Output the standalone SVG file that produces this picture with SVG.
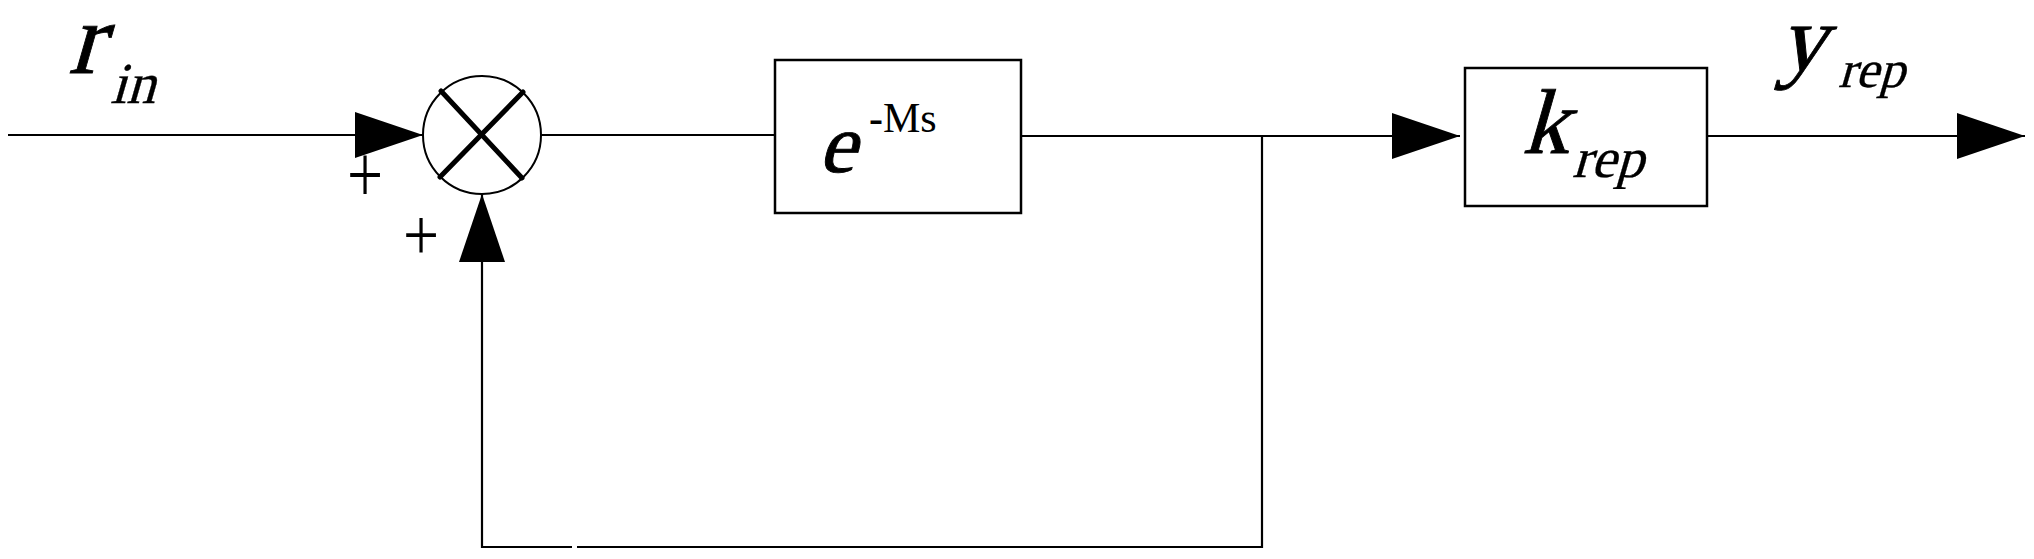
<svg xmlns="http://www.w3.org/2000/svg" width="2034" height="559" viewBox="0 0 2034 559">
  <style>
    .ln { fill: none; stroke: #000; stroke-width: 2.2; }
    .box { fill: #fff; stroke: #000; stroke-width: 2.5; }
    .sym { font-family: "Liberation Serif", "Times New Roman", serif; fill: #000; }
    .big { stroke: #000; stroke-width: 0.9; }
    .sub { stroke: #000; stroke-width: 0.3; }
    .rom { font-family: "Liberation Serif", "Times New Roman", serif; fill: #000; }
    .xl { stroke: #000; stroke-width: 5; stroke-linecap: round; }
  </style>
  <defs>
    <marker id="arr" markerUnits="userSpaceOnUse" markerWidth="70" markerHeight="48" refX="68" refY="23" orient="auto" viewBox="0 0 70 48">
      <path d="M0,0 L68,23 L0,46 Z" fill="#000"/>
    </marker>
  </defs>
  <rect width="2034" height="559" fill="#fff"/>

  <g id="connectors">
    <path class="ln" d="M8,135 H423" marker-end="url(#arr)"/>
    <path class="ln" d="M541,135 H775"/>
    <path class="ln" d="M1021,136 H1460" marker-end="url(#arr)"/>
    <path class="ln" d="M1707,136 H2025" marker-end="url(#arr)"/>
    <path class="ln" d="M1262,136 V547 H577"/>
    <path class="ln" d="M572,547 H482 V194" marker-end="url(#arr)"/>
  </g>

  <g id="label-rin">
    <text class="sym big" font-size="102" transform="translate(68,73) skewX(-16)">r</text>
    <text class="sym sub" font-size="58" transform="translate(110,103) skewX(-16)">in</text>
  </g>

  <g id="sum">
    <circle cx="482" cy="135" r="59" fill="#fff" stroke="#000" stroke-width="2"/>
    <line class="xl" x1="441" y1="91" x2="522" y2="178"/>
    <line class="xl" x1="523" y1="92" x2="440" y2="177"/>
    <text class="rom" font-size="64" transform="translate(347,202) scale(1,1.3)">+</text>
    <text class="rom" font-size="64" transform="translate(403,259.5) scale(1,1.15)">+</text>
  </g>

  <g id="delay">
    <rect class="box" x="775" y="60" width="246" height="153"/>
    <text class="sym big" font-size="84" transform="translate(818,172) skewX(-16)">e</text>
    <text class="rom" x="869" y="132" font-size="42"><tspan font-weight="bold">-</tspan>Ms</text>
  </g>

  <g id="gain">
    <rect class="box" x="1465" y="68" width="242" height="138"/>
    <text class="sym big" font-size="92" transform="translate(1522,153) skewX(-16)">k</text>
    <text class="sym sub" font-size="56" transform="translate(1572,177) skewX(-16)">rep</text>
  </g>

  <g id="label-yrep">
    <text class="sym big" font-size="94" transform="translate(1778,70) skewX(-16)">y</text>
    <text class="sym sub" font-size="52" transform="translate(1838,87) skewX(-16)">rep</text>
  </g>
</svg>
